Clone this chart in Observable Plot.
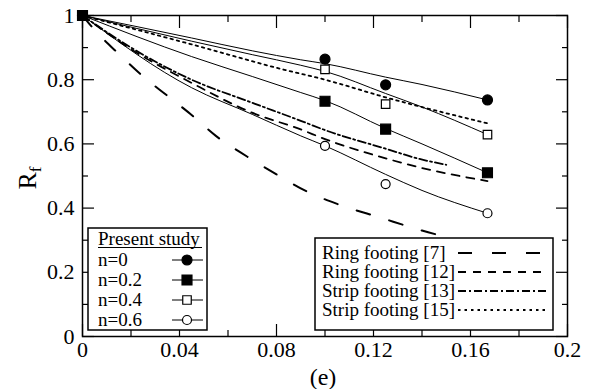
<!DOCTYPE html>
<html><head><meta charset="utf-8">
<script src="https://cdn.jsdelivr.net/npm/d3@7"></script>
<script src="https://cdn.jsdelivr.net/npm/@observablehq/plot@0.6"></script>
<style>html,body{margin:0;padding:0;background:#fff;}</style>
</head><body><div id="chart"></div>
<script>
// ---- tick values ----
const xMajor = [0, 0.04, 0.08, 0.12, 0.16, 0.2];
const xMinor = [0.02, 0.06, 0.1, 0.14, 0.18];
const yMajor = [0, 0.2, 0.4, 0.6, 0.8, 1];
const yMinor = [0.1, 0.3, 0.5, 0.7, 0.9];

// ---- present study: measured points ----
const studyE = [0, 0.1, 0.125, 0.167];
const n0  = [1, 0.864, 0.784, 0.737];
const n02 = [1, 0.733, 0.646, 0.51];
const n04 = [1, 0.832, 0.724, 0.629];
const n06 = [1, 0.594, 0.475, 0.384];

// ---- present study: fitted curves ----
const fitE  = [0, 0.045, 0.07, 0.09, 0.1, 0.125, 0.14, 0.167];
const fit0  = [1, 0.93, 0.89, 0.862, 0.85, 0.808, 0.785, 0.737];
const fit02 = [1, 0.872, 0.81, 0.76, 0.735, 0.648, 0.6, 0.51];
const fit04 = [1, 0.92, 0.878, 0.845, 0.826, 0.757, 0.715, 0.629];
const fit06 = [1, 0.775, 0.692, 0.625, 0.594, 0.505, 0.455, 0.384];

// ---- literature curves ----
const ring7E = [0, 0.005, 0.015, 0.025, 0.035, 0.045, 0.055, 0.068, 0.08, 0.093, 0.105, 0.123, 0.14, 0.15];
const ring7  = [1, 0.955, 0.88, 0.81, 0.75, 0.69, 0.625, 0.56, 0.505, 0.45, 0.413, 0.37, 0.33, 0.31];
const ring12E = [0, 0.02, 0.045, 0.0693, 0.09, 0.1, 0.125, 0.14, 0.167];
const ring12  = [1, 0.895, 0.79, 0.699, 0.645, 0.615, 0.555, 0.525, 0.484];
const strip13E = [0, 0.02, 0.045, 0.0693, 0.09, 0.1, 0.125, 0.139, 0.15];
const strip13  = [1, 0.9, 0.8, 0.73, 0.672, 0.643, 0.585, 0.553, 0.535];
const strip15E = [0, 0.045, 0.0816, 0.1, 0.125, 0.167];
const strip15  = [1, 0.91, 0.834, 0.8, 0.745, 0.664];

// ---- legend labels ----
const studyTitle = "Present study";
const studyLabels = ["n=0", "n=0.2", "n=0.4", "n=0.6"];
const litLabels = ["Ring footing [7]", "Ring footing [12]", "Strip footing [13]", "Strip footing [15]"];

const rows = (E, Y) => E.map((e, i) => ({e, r: Y[i]}));
const fmt = d => String(+d.toFixed(2));
const FONT = "'Liberation Serif', 'Times New Roman', serif";

const dashes = {r7: "14,20", r12: "8,7", s13: "8,3,2,3", s15: "2.5,4"};
const markerStyles = [
  {symbol: "circle", fill: "black", stroke: "black", r: 5},
  {symbol: "square", fill: "black", stroke: "black", r: 5.6},
  {symbol: "square", fill: "white", stroke: "black", r: 4.8},
  {symbol: "circle", fill: "white", stroke: "black", r: 4.5}
];
const series = [n0, n02, n04, n06];
const fits = [fit0, fit02, fit04, fit06];

const marks = [];
marks.push(Plot.line(rows(ring7E, ring7), {x: "e", y: "r", stroke: "black", strokeWidth: 2, strokeDasharray: dashes.r7, curve: "monotone-x"}));
marks.push(Plot.line(rows(ring12E, ring12), {x: "e", y: "r", stroke: "black", strokeWidth: 1.8, strokeDasharray: dashes.r12, curve: "monotone-x"}));
marks.push(Plot.line(rows(strip13E, strip13), {x: "e", y: "r", stroke: "black", strokeWidth: 1.8, strokeDasharray: dashes.s13, curve: "monotone-x"}));
marks.push(Plot.line(rows(strip15E, strip15), {x: "e", y: "r", stroke: "black", strokeWidth: 1.8, strokeDasharray: dashes.s15, curve: "monotone-x"}));
fits.forEach(f => marks.push(Plot.line(rows(fitE, f), {x: "e", y: "r", stroke: "black", strokeWidth: 1, curve: "monotone-x"})));
[3, 2, 0, 1].forEach(k => {
  const m = markerStyles[k];
  marks.push(Plot.dot(rows(studyE, series[k]), {x: "e", y: "r", symbol: m.symbol, fill: m.fill, stroke: m.stroke, strokeWidth: 1.2, r: m.r}));
});
marks.push(Plot.frame({stroke: "black", strokeWidth: 1.5}));
for (const anchor of ["bottom", "top"]) {
  marks.push(Plot.axisX({anchor, ticks: xMajor, tickSize: -12, tickFormat: () => "", label: null, strokeWidth: 1.2}));
  marks.push(Plot.axisX({anchor, ticks: xMinor, tickSize: -6, tickFormat: () => "", label: null, strokeWidth: 1.2}));
}
for (const anchor of ["left", "right"]) {
  marks.push(Plot.axisY({anchor, ticks: yMajor, tickSize: -12, tickFormat: () => "", label: null, strokeWidth: 1.2}));
  marks.push(Plot.axisY({anchor, ticks: yMinor, tickSize: -6, tickFormat: () => "", label: null, strokeWidth: 1.2}));
}
marks.push(Plot.axisX({anchor: "bottom", ticks: xMajor, tickSize: 0, tickPadding: 5, tickFormat: fmt, label: null, fontSize: 22}));
marks.push(Plot.axisY({anchor: "left", ticks: yMajor, tickSize: 0, tickPadding: 8, tickFormat: fmt, label: null, fontSize: 22}));

const plot = Plot.plot({
  width: 590, height: 389,
  marginLeft: 82, marginRight: 23, marginTop: 15, marginBottom: 53,
  x: {domain: [0, 0.2], label: null},
  y: {domain: [0, 1], label: null},
  style: {fontFamily: FONT, fontSize: "20px", color: "black", background: "white"},
  marks
});
document.getElementById("chart").appendChild(plot);

// ---- axis titles and legends ----
const svg = d3.select(plot);
const yt = svg.append("text").attr("transform", "translate(36,178) rotate(-90)")
  .attr("text-anchor", "middle").attr("font-family", FONT).attr("font-size", 26).attr("fill", "black");
yt.append("tspan").text("R");
yt.append("tspan").attr("font-size", 17).attr("dy", 5).text("f");
svg.append("text").attr("x", 323).attr("y", 385).attr("text-anchor", "middle")
  .attr("font-family", FONT).attr("font-size", 24).attr("fill", "black").text("(e)");

// Legend 1: present study
const L1 = svg.append("g").attr("font-family", FONT).attr("font-size", 19).attr("fill", "black").attr("text-anchor", "start");
L1.append("rect").attr("x", 88).attr("y", 228).attr("width", 119).attr("height", 102)
  .attr("fill", "white").attr("stroke", "black").attr("stroke-width", 1.5);
L1.append("text").attr("x", 98).attr("y", 245).text(studyTitle);
L1.append("line").attr("x1", 98).attr("x2", 202).attr("y1", 247.5).attr("y2", 247.5).attr("stroke", "black").attr("stroke-width", 1);
const sym = {circle: d3.symbolCircle, square: d3.symbolSquare};
studyLabels.forEach((lab, i) => {
  const cy = 260 + i * 20;
  L1.append("text").attr("x", 98).attr("y", cy + 6).text(lab);
  L1.append("line").attr("x1", 172).attr("x2", 203).attr("y1", cy).attr("y2", cy).attr("stroke", "black").attr("stroke-width", 1);
  const m = markerStyles[i];
  L1.append("path").attr("transform", `translate(187,${cy})`)
    .attr("d", d3.symbol(sym[m.symbol], Math.PI * m.r * m.r)())
    .attr("fill", m.fill).attr("stroke", "black").attr("stroke-width", 1.2);
});

// Legend 2: literature
const L2 = svg.append("g").attr("font-family", FONT).attr("font-size", 19).attr("fill", "black").attr("text-anchor", "start");
L2.append("rect").attr("x", 315).attr("y", 238).attr("width", 238).attr("height", 92)
  .attr("fill", "white").attr("stroke", "black").attr("stroke-width", 1.5);
const litStyles = [[dashes.r7, 2], [dashes.r12, 1.8], [dashes.s13, 1.8], [dashes.s15, 1.8]];
litLabels.forEach((lab, i) => {
  const cy = 253 + i * 19;
  const t = L2.append("text").attr("x", 322).attr("y", cy + 6).text(lab);
  const w = t.node().getComputedTextLength();
  L2.append("line").attr("x1", Math.max(458, 322 + w + 2)).attr("x2", 548).attr("y1", cy).attr("y2", cy)
    .attr("stroke", "black").attr("stroke-width", litStyles[i][1]).attr("stroke-dasharray", litStyles[i][0]);
});
</script>
</body></html>
